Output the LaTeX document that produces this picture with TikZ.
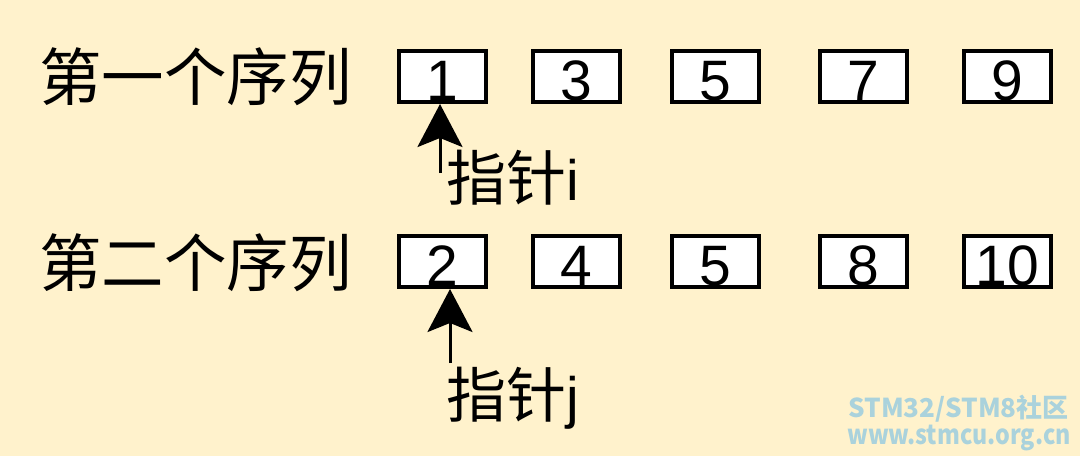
\documentclass[tikz,border=0pt]{standalone}
\usepackage{fontspec}
\setmainfont{Liberation Sans}
\newfontfamily\cjk{Noto Sans CJK SC}
\usetikzlibrary{arrows.meta}
\definecolor{paper}{RGB}{255,242,204}
\definecolor{stamp}{RGB}{170,210,220}
\tikzset{
  cell/.style={draw, line width=4pt, fill=white, minimum width=87pt, minimum height=51pt,
    inner sep=0pt, text height=47pt, text depth=0pt, font=\fontsize{57pt}{60pt}\selectfont},
  title/.style={anchor=west, inner sep=0pt, font=\cjk\fontsize{62.5pt}{66pt}\selectfont},
  ptrlabel/.style={anchor=base west, inner sep=0pt, font=\fontsize{57pt}{66pt}\selectfont},
  ptr/.style={line width=3pt, -{Stealth[length=43pt, width=45pt, inset=9pt]}},
  stamptext/.style={anchor=base east, inner sep=0pt, text=stamp, font=\cjk\bfseries\fontsize{26pt}{28pt}\selectfont}
}
\begin{document}
\begin{tikzpicture}[x=1pt,y=-1pt]
\fill[paper] (0,0) rectangle (1080,456);
\useasboundingbox (0,0) rectangle (1080,456);

\node[title] (s1) at (39,77) {第一个序列};
\node[title] (s2) at (39,263) {第二个序列};

\foreach \x/\v [count=\k] in {442.5/1,576/3,715/5,863.5/7,1007.5/9}
  \node[cell] (a\k) at (\x,76.5) {\v};
\foreach \x/\v [count=\k] in {442.5/2,576/4,715/5,863.5/8,1007.5/10}
  \node[cell] (b\k) at (\x,261.5) {\v};

% pointers
\coordinate (pi) at (440,173);
\coordinate (pj) at (450,363);
\draw[ptr] (pi) -- (pi |- a1.south);
\draw[ptr] (pj) -- (pj |- b1.south);
\node[ptrlabel] (li) at (446,200) {{\cjk\fontsize{60pt}{66pt}\selectfont 指针}i};
\node[ptrlabel] (lj) at (446,417) {{\cjk\fontsize{60pt}{66pt}\selectfont 指针}j};

\node[stamptext] (w1) at (1069,417) {STM32/STM8社区};
\node[stamptext] (w2) at (1071,444) {\addfontfeature{FakeStretch=0.86}\fontsize{27pt}{29pt}\selectfont www.stmcu.org.cn};
\end{tikzpicture}
\end{document}
